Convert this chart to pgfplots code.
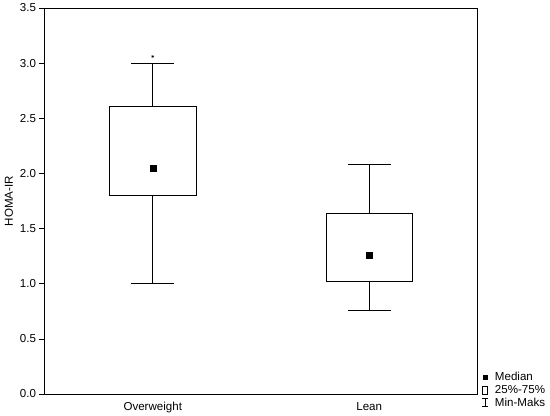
\documentclass[border=0pt]{standalone}
\usepackage{fontspec}
\setmainfont{Liberation Sans}
\usepackage{pgfplots}
\pgfplotsset{compat=1.18}
\usepgfplotslibrary{statistics}
\usetikzlibrary{calc}
\newcommand\lf{\fontsize{11.6}{13}\selectfont}
\begin{document}
\begin{tikzpicture}
\begin{axis}[
  name=ax,
  scale only axis,
  width=433bp, height=386bp,
  xmin=-0.5, xmax=1.5,
  ymin=0, ymax=3.5,
  xtick={0,1}, xticklabels={Overweight,Lean},
  ytick={0,0.5,...,3.5},
  tick pos=left,
  tick align=outside,
  major tick length=5bp,
  x tick style={draw=none},
  tick style={black, line width=0.6bp},
  axis line style={black, line width=0.8bp},
  /pgf/number format/assume math mode=true,
  yticklabel style={/pgf/number format/fixed, /pgf/number format/fixed zerofill, /pgf/number format/precision=1, font=\lf},
  xticklabel style={font=\lf},
  ylabel={HOMA-IR},
  ylabel style={font=\lf},
  boxplot/draw direction=y,
  legend style={at={(1,0)}, anchor=west, xshift=4bp, yshift=4bp, draw=none, fill=none, font=\lf, row sep=-1bp, inner sep=0pt},
  legend cell align=left,
]
\addplot[black, line width=0.8bp, forget plot,
  boxplot/draw/median/.code={},
  boxplot prepared={draw position=0, lower whisker=1.0, lower quartile=1.80, median=2.05, upper quartile=2.61, upper whisker=3.0, box extend=0.4, whisker extend=0.2}]
  coordinates {};
\addplot[black, line width=0.8bp, forget plot,
  boxplot/draw/median/.code={},
  boxplot prepared={draw position=1, lower whisker=0.76, lower quartile=1.025, median=1.26, upper quartile=1.637, upper whisker=2.085, box extend=0.4, whisker extend=0.2}]
  coordinates {};
\addplot[only marks, mark=square*, mark size=3bp, black, forget plot] coordinates {(0,2.05) (1,1.26)};
\addplot[only marks, mark=asterisk, mark size=1.5bp, black, line width=0.5bp, forget plot] coordinates {(0,3.06)};
\addlegendimage{legend image code/.code={\path[draw=none,fill=none] (0bp,0bp) -- (11bp,0bp); \fill[black] (0.8bp,-2.3bp) rectangle (5.4bp,2.3bp);}}
\addlegendentry{Median}
\addlegendimage{legend image code/.code={\path[draw=none,fill=none] (0bp,0bp) -- (11bp,0bp); \draw[black,fill=none,line width=0.6bp] (0bp,-4bp) rectangle (5.5bp,4bp);}}
\addlegendentry{25\%-75\%}
\addlegendimage{legend image code/.code={\path[draw=none,fill=none] (0bp,0bp) -- (11bp,0bp); \draw[black,line width=0.6bp] (0bp,-4bp) -- (6bp,-4bp) (3bp,-4bp) -- (3bp,4bp) (0bp,4bp)--(6bp,4bp);}}
\addlegendentry{Min-Maks}
\end{axis}
\pgfresetboundingbox
\path[use as bounding box] ($(ax.south west)+(-44.5bp,-22bp)$) rectangle ($(ax.north east)+(72.5bp,8bp)$);
\end{tikzpicture}
\end{document}
